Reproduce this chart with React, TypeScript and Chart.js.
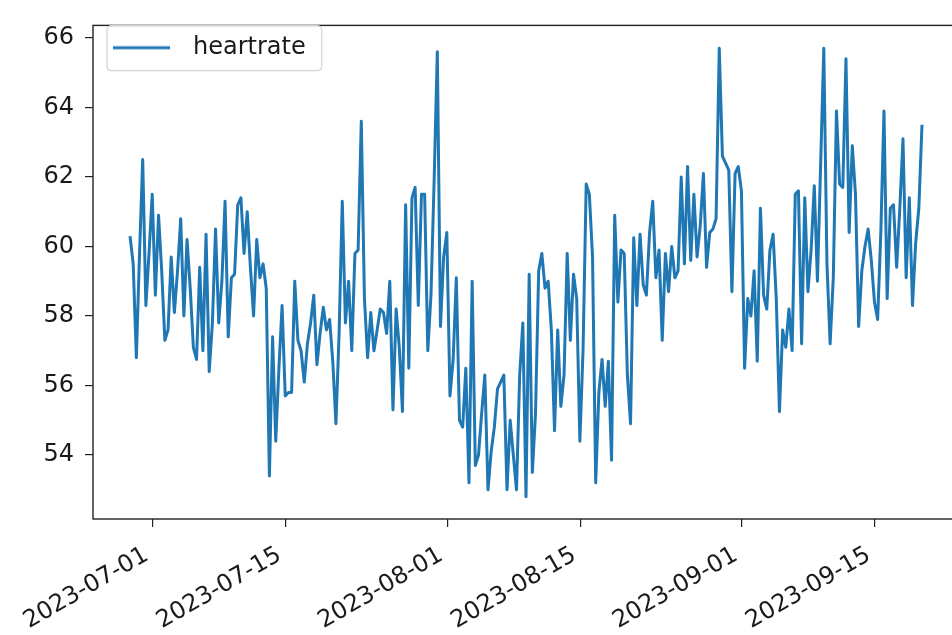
import React, { useEffect, useRef } from 'react';
import { Chart, registerables } from 'chart.js';

Chart.register(...registerables);

// ---- data ----
const seriesName = 'heartrate';
const startTime = '2023-06-28T15:00:00Z';
const stepHours = 8;
const heartrate = [
  60.3, 59.5, 56.8, 59.8, 62.5, 58.3, 59.8, 61.5, 58.6, 60.9,
  59.3, 57.3, 57.6, 59.7, 58.1, 59.3, 60.8, 58.0, 60.2, 58.8,
  57.1, 56.75, 59.4, 57.0, 60.35, 56.4, 57.8, 60.5, 57.8, 59.0,
  61.3, 57.4, 59.1, 59.2, 61.2, 61.4, 59.8, 61.0, 59.4, 58.0,
  60.2, 59.1, 59.5, 58.8, 53.4, 57.4, 54.4, 56.5, 58.3, 55.7,
  55.8, 55.8, 59.0, 57.3, 57.0, 56.1, 57.2, 57.8, 58.6, 56.6,
  57.5, 58.25, 57.6, 57.9, 56.7, 54.9, 57.5, 61.3, 57.8, 59.0,
  57.0, 59.8, 59.9, 63.6, 58.5, 56.8, 58.1, 57.0, 57.6, 58.2,
  58.1, 57.5, 59.0, 55.3, 58.2, 57.1, 55.25, 61.2, 56.5, 61.4,
  61.7, 58.3, 61.5, 61.5, 57.0, 58.6, 61.9, 65.6, 57.7, 59.7,
  60.4, 55.7, 56.75, 59.1, 55.0, 54.8, 56.5, 53.2, 59.0, 53.7,
  54.0, 55.2, 56.3, 53.0, 54.1, 54.8, 55.9, 56.1, 56.3, 53.0,
  55.0, 54.0, 53.0, 56.3, 57.8, 52.8, 59.2, 53.5, 55.2, 59.3,
  59.8, 58.8, 59.0, 57.6, 54.7, 57.6, 55.4, 56.3, 59.8, 57.3,
  59.2, 58.5, 54.4, 57.0, 61.8, 61.5, 59.7, 53.2, 55.8, 56.75,
  55.4, 56.7, 53.85, 60.9, 58.4, 59.9, 59.8, 56.3, 54.9, 60.25,
  58.3, 60.35, 58.9, 58.6, 60.4, 61.3, 59.1, 59.9, 57.3, 59.8,
  58.7, 60.0, 59.1, 59.3, 62.0, 59.5, 62.3, 59.6, 61.5, 59.7,
  60.6, 62.1, 59.4, 60.4, 60.5, 60.8, 65.7, 62.6, 62.4, 62.2,
  58.7, 62.1, 62.3, 61.6, 56.5, 58.5, 58.0, 59.3, 56.7, 61.1,
  58.6, 58.2, 59.9, 60.35, 58.5, 55.25, 57.6, 57.1, 58.2, 57.0,
  61.5, 61.6, 57.2, 61.4, 58.7, 59.9, 61.75, 59.0, 62.35, 65.7,
  59.5, 57.2, 59.1, 63.9, 61.8, 61.7, 65.4, 60.4, 62.9, 61.5,
  57.7, 59.3, 60.0, 60.5, 59.6, 58.4, 57.9, 60.4, 63.9, 58.5,
  61.1, 61.2, 59.4, 61.1, 63.1, 59.1, 61.4, 58.3, 60.1, 61.1,
  63.5,
];
const xTickLabels = ['2023-07-01', '2023-07-15', '2023-08-01', '2023-08-15', '2023-09-01', '2023-09-15'];
const yTickValues = [54, 56, 58, 60, 62, 64, 66];
const xAxisMin = '2023-06-24T17:30:00Z';
const xAxisMax = '2023-09-24T01:30:00Z';
const yAxisMin = 52.16;
const yAxisMax = 66.36;

// ---- helpers ----
const DAY = 86400000;
const REF = Date.parse('2023-07-01T00:00:00Z');
const toDays = (ms: number) => (ms - REF) / DAY;
const labelDays = xTickLabels.map((s) => toDays(Date.parse(s + 'T00:00:00Z')));

const FONT = 'DejaVu Sans';
const FONT_SIZE = 24;
const LINE_COLOR = '#1f77b4';
const TEXT_COLOR = '#1a1a1a';

function makeLegendHandle(): HTMLCanvasElement {
  const c = document.createElement('canvas');
  c.width = 68;
  c.height = 8;
  const g = c.getContext('2d');
  if (g) {
    g.strokeStyle = LINE_COLOR;
    g.lineWidth = 3;
    g.beginPath();
    g.moveTo(0, 4);
    g.lineTo(57, 4);
    g.stroke();
  }
  return c;
}

const framePlugin = {
  id: 'mplFrame',
  afterDraw(chart: any) {
    const { ctx, chartArea: a } = chart;
    ctx.save();
    ctx.strokeStyle = '#222';
    ctx.lineWidth = 1.4;
    ctx.strokeRect(a.left, a.top, a.right - a.left, a.bottom - a.top);
    const lg = chart.legend;
    if (lg && lg.legendHitBoxes && lg.legendHitBoxes.length) {
      const hb = lg.legendHitBoxes[0];
      const x = hb.left - 6;
      const y = hb.top - 10;
      const w = hb.width + 22;
      const h = hb.height + 21;
      const r = 5;
      ctx.beginPath();
      ctx.moveTo(x + r, y);
      ctx.lineTo(x + w - r, y);
      ctx.quadraticCurveTo(x + w, y, x + w, y + r);
      ctx.lineTo(x + w, y + h - r);
      ctx.quadraticCurveTo(x + w, y + h, x + w - r, y + h);
      ctx.lineTo(x + r, y + h);
      ctx.quadraticCurveTo(x, y + h, x, y + h - r);
      ctx.lineTo(x, y + r);
      ctx.quadraticCurveTo(x, y, x + r, y);
      ctx.closePath();
      ctx.strokeStyle = '#d6d6d6';
      ctx.lineWidth = 1.3;
      ctx.stroke();
    }
    ctx.restore();
  },
};

export default function App() {
  const canvasRef = useRef<HTMLCanvasElement | null>(null);

  useEffect(() => {
    const canvas = canvasRef.current;
    if (!canvas) return;
    const t0 = Date.parse(startTime);
    const points = heartrate.map((v, i) => ({
      x: toDays(t0 + i * stepHours * 3600000),
      y: v,
    }));
    const handle = makeLegendHandle();

    const chart = new Chart(canvas, {
      type: 'line',
      data: {
        datasets: [
          {
            label: seriesName,
            data: points,
            borderColor: LINE_COLOR,
            backgroundColor: LINE_COLOR,
            borderWidth: 3,
            pointRadius: 0,
            tension: 0,
            borderJoinStyle: 'round',
            fill: false,
          },
        ],
      },
      options: {
        animation: false,
        responsive: false,
        maintainAspectRatio: false,
        devicePixelRatio: 1,
        layout: { padding: { top: 12, left: 0, right: 0, bottom: 0 } },
        plugins: {
          tooltip: { enabled: false },
          legend: {
            position: 'chartArea' as any,
            align: 'start',
            title: {
              display: true,
              text: '',
              font: { size: 1 },
              padding: { top: 0, bottom: 14.5 },
            },
            labels: {
              usePointStyle: true,
              pointStyle: handle as any,
              pointStyleWidth: 68,
              boxHeight: FONT_SIZE,
              padding: 20,
              color: TEXT_COLOR,
              font: { family: FONT, size: FONT_SIZE },
            },
          },
        },
        scales: {
          x: {
            type: 'linear',
            min: toDays(Date.parse(xAxisMin)),
            max: toDays(Date.parse(xAxisMax)),
            afterBuildTicks: (scale: any) => {
              scale.ticks = labelDays.map((d) => ({ value: d }));
            },
            afterFit: (scale: any) => {
              scale.height = 116;
            },
            ticks: {
              autoSkip: false,
              minRotation: 30,
              maxRotation: 30,
              padding: 14,
              labelOffset: -6,
              color: TEXT_COLOR,
              font: { family: FONT, size: FONT_SIZE },
              callback: (value: any) => {
                const idx = labelDays.findIndex((d) => Math.abs(d - Number(value)) < 1e-6);
                return idx >= 0 ? xTickLabels[idx] : '';
              },
            },
            grid: {
              display: true,
              drawOnChartArea: false,
              drawTicks: true,
              tickLength: 8,
              color: '#222',
              lineWidth: 1.2,
            },
            border: { display: false },
          },
          y: {
            type: 'linear',
            min: yAxisMin,
            max: yAxisMax,
            afterBuildTicks: (scale: any) => {
              scale.ticks = yTickValues.map((v) => ({ value: v }));
            },
            afterFit: (scale: any) => {
              scale.width = 93;
            },
            ticks: {
              padding: 11,
              color: TEXT_COLOR,
              font: { family: FONT, size: FONT_SIZE },
              callback: (value: any) => String(value),
            },
            grid: {
              display: true,
              drawOnChartArea: false,
              drawTicks: true,
              tickLength: 8,
              color: '#222',
              lineWidth: 1.2,
            },
            border: { display: false },
          },
        },
      },
      plugins: [framePlugin],
    });

    return () => {
      chart.destroy();
    };
  }, []);

  return (
    <div
      style={{
        position: 'fixed',
        left: 0,
        top: 0,
        width: 952,
        height: 635,
        overflow: 'hidden',
        background: '#fff',
      }}
    >
      <canvas ref={canvasRef} width={961} height={635} style={{ width: 961, height: 635, display: 'block' }} />
    </div>
  );
}
